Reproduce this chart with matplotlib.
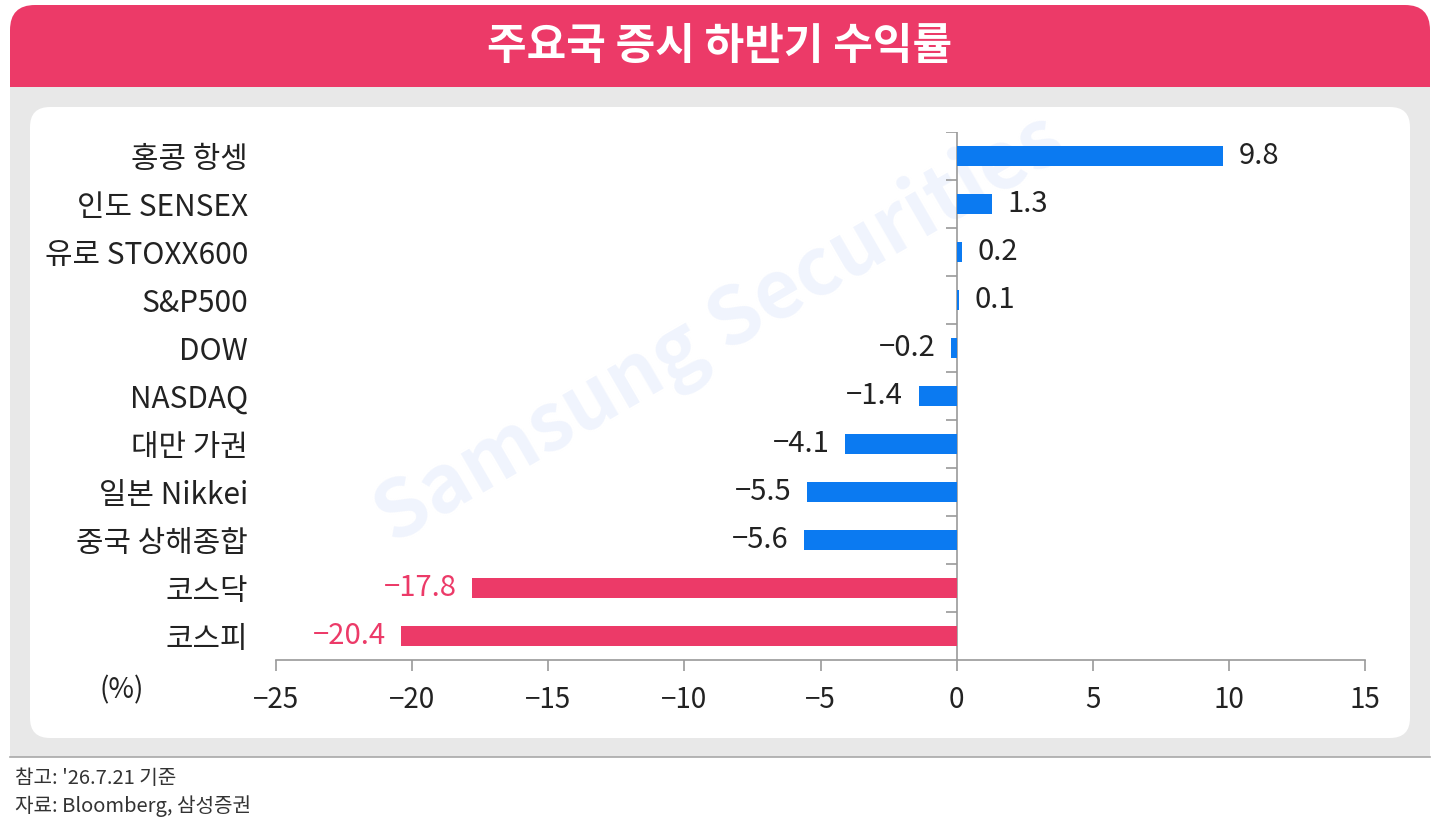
import numpy as np
import matplotlib
matplotlib.use("Agg")
import matplotlib.pyplot as plt
from matplotlib.patches import Rectangle, FancyBboxPatch
from matplotlib.markers import TICKLEFT

plt.rcParams['font.family'] = ['Noto Sans CJK KR', 'DejaVu Sans']

# chart data
categories = ['홍콩 항셍', '인도 SENSEX', '유로 STOXX600', 'S&P500', 'DOW', 'NASDAQ',
              '대만 가권', '일본 Nikkei', '중국 상해종합', '코스닥', '코스피']
values = [9.8, 1.3, 0.2, 0.1, -0.2, -1.4, -4.1, -5.5, -5.6, -17.8, -20.4]
korea = [False, False, False, False, False, False, False, False, False, True, True]
xticks = [-25, -20, -15, -10, -5, 0, 5, 10, 15]

title = '주요국 증시 하반기 수익률'
note1 = "참고: '26.7.21 기준"
note2 = '자료: Bloomberg, 삼성증권'

PINK = '#EC3A68'
BLUE = '#0B7AF1'
GRAY_BG = '#E8E8E8'
AXIS_GRAY = '#9A9A9A'

W, H = 1442, 824
fig = plt.figure(figsize=(W / 100, H / 100), dpi=100)

# background layer in pixel coordinates
bg = fig.add_axes([0, 0, 1, 1], zorder=0)
bg.set_xlim(0, W)
bg.set_ylim(H, 0)
bg.axis('off')
bg.add_patch(Rectangle((10, 87), 1420, 670, color=GRAY_BG, lw=0))
bg.add_patch(FancyBboxPatch((30 + 20, 107 + 20), 1380 - 40, 631 - 40,
                            boxstyle='round,pad=20', fc='white', ec='none'))
bg.add_patch(FancyBboxPatch((10 + 25, 5 + 25), 1420 - 50, 82 - 50,
                            boxstyle='round,pad=25', fc=PINK, ec='none'))
bg.add_patch(Rectangle((10, 50), 1420, 37, color=PINK, lw=0))
bg.plot([10, 1430], [757, 757], color='#A8A8A8', lw=1.2)
bg.text(720, 46, title, color='white', fontsize=31, fontweight='bold',
        ha='center', va='center')
bg.text(720, 330, 'Samsung Securities', color='#F0F4FD', fontsize=58,
        fontweight='bold', rotation=30, ha='center', va='center')
bg.text(122, 690, '(%)', fontsize=20, ha='center', va='center', color='#222222')
bg.text(15, 779, note1, fontsize=14.5, ha='left', va='center', color='#333333')
bg.text(15, 806, note2, fontsize=14.5, ha='left', va='center', color='#333333')

# main chart
ax = fig.add_axes([276 / W, 1 - 660 / H, (1365 - 276) / W, (660 - 132) / H], zorder=1)
ax.set_facecolor('none')
y = np.arange(len(categories))
colors = [PINK if k else BLUE for k in korea]
ax.barh(y, values, height=0.4, color=colors, zorder=3)

ax.set_xlim(-25, 15)
ax.set_ylim(len(categories) - 0.5, -0.5)
ax.set_xticks(xticks)
ax.set_yticks(y)
ax.set_yticklabels(categories)

for s in ['top', 'right', 'left']:
    ax.spines[s].set_visible(False)
ax.spines['bottom'].set_color(AXIS_GRAY)
ax.spines['bottom'].set_linewidth(1.2)
ax.tick_params(axis='x', direction='out', length=8, width=1.2, color=AXIS_GRAY,
               labelsize=20, pad=10, labelcolor='#222222')
ax.tick_params(axis='y', length=0, labelsize=21.5, pad=20, labelcolor='#222222')

# zero line with category separators
bounds = np.arange(len(categories)) - 0.5
ax.axvline(0, color=AXIS_GRAY, lw=1.2, zorder=2)
ax.plot(np.zeros(len(bounds)), bounds, ls='none', marker=TICKLEFT,
        markersize=8, markeredgewidth=1.2, color=AXIS_GRAY, zorder=2)

for i, v in enumerate(values):
    txt = f'{v:.1f}'.replace('-', '\u2212')
    off = 11 if v >= 0 else -11
    ax.annotate(txt, (v, i), xytext=(off, 0), textcoords='offset points',
                ha='left' if v >= 0 else 'right', va='center', fontsize=21,
                color=PINK if korea[i] else '#222222')

fig.savefig('out.png', dpi=100, facecolor='white')
